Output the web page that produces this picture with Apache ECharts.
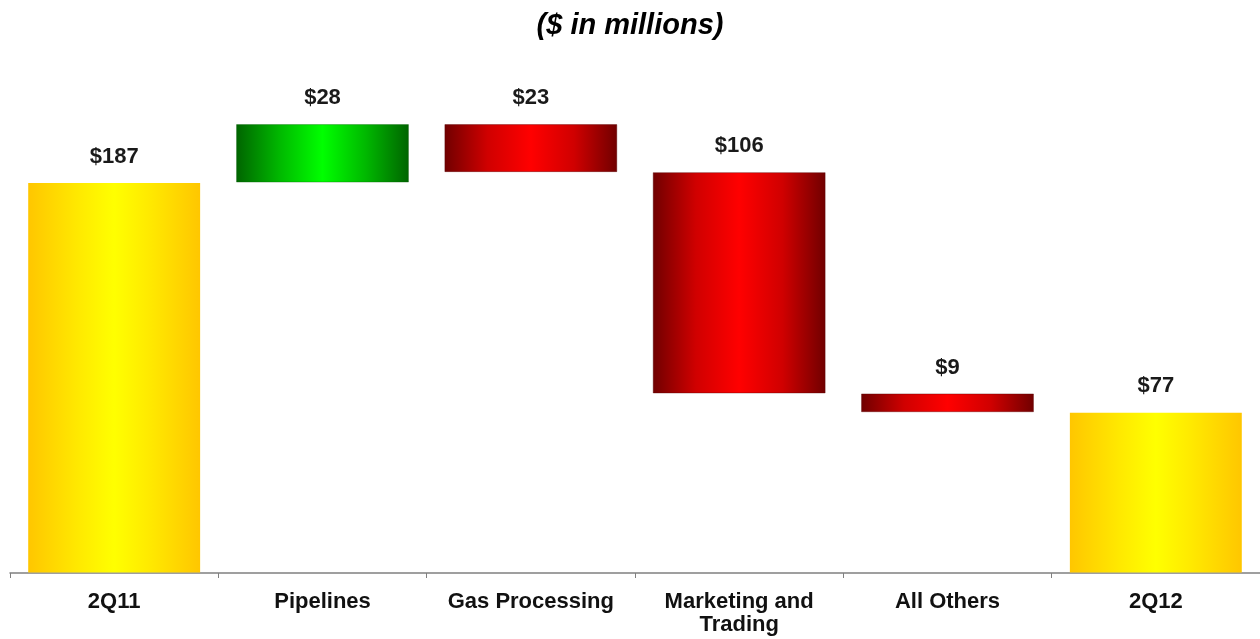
<!DOCTYPE html>
<html>
<head>
<meta charset="utf-8">
<script src="https://cdn.jsdelivr.net/npm/echarts@6/dist/echarts.min.js"></script>
<style>
  html, body { margin: 0; padding: 0; background: #fff; }
  #chart { width: 1260px; height: 639px; }
</style>
</head>
<body>
<div id="chart"></div>
<script>
// Quarter-over-quarter bridge, $ in millions
const categories = ['2Q11', 'Pipelines', 'Gas Processing', 'Marketing and\nTrading', 'All Others', '2Q12'];
const changes = [187, 28, -23, -106, -9, 77];
const kinds = ['total', 'delta', 'delta', 'delta', 'delta', 'total'];

const FONT = 'Arial, "Liberation Sans", sans-serif';

function grad(stops) {
  return new echarts.graphic.LinearGradient(0, 0, 1, 0,
    stops.map(([offset, color]) => ({ offset, color })));
}
const fills = {
  total: () => grad([[0, '#FFC600'], [0.3, '#FFEA00'], [0.5, '#FFFF00'], [0.7, '#FFEA00'], [1, '#FFC600']]),
  up: () => grad([[0, '#006400'], [0.25, '#00B800'], [0.5, '#00FF00'], [0.75, '#00B800'], [1, '#006400']]),
  down: () => grad([[0, '#700000'], [0.25, '#D00000'], [0.5, '#FF0000'], [0.75, '#D00000'], [1, '#700000']])
};

// floating offsets for the waterfall
const bases = [];
const heights = [];
let running = 0;
changes.forEach((v, i) => {
  if (kinds[i] === 'total') {
    bases.push(0);
    heights.push(v);
    running = v;
  } else if (v >= 0) {
    bases.push(running);
    heights.push(v);
    running += v;
  } else {
    running += v;
    bases.push(running);
    heights.push(-v);
  }
});

const barData = heights.map((h, i) => {
  const k = kinds[i] === 'total' ? 'total' : (changes[i] >= 0 ? 'up' : 'down');
  return {
    value: h,
    itemStyle: {
      color: fills[k](),
      borderColor: k === 'up' ? 'rgba(0,90,0,0.35)' : (k === 'down' ? 'rgba(90,0,0,0.4)' : 'rgba(0,0,0,0)'),
      borderWidth: 1
    }
  };
});

const chart = echarts.init(document.getElementById('chart'), null, { renderer: 'canvas' });
chart.setOption({
  animation: false,
  backgroundColor: '#ffffff',
  title: {
    text: '($ in millions)',
    left: 'center',
    top: 6,
    textStyle: {
      fontFamily: FONT,
      fontSize: 29,
      fontWeight: 'bold',
      fontStyle: 'italic',
      color: '#000'
    }
  },
  grid: { left: 10, right: 0, top: 74, bottom: 66 },
  xAxis: {
    type: 'category',
    data: categories,
    axisLine: { lineStyle: { color: '#808080', width: 1.5 } },
    axisTick: { show: true, interval: 0, length: 5, lineStyle: { color: '#808080' } },
    axisLabel: {
      interval: 0,
      hideOverlap: false,
      margin: 17,
      fontFamily: FONT,
      fontSize: 22,
      fontWeight: 'bold',
      color: '#111',
      lineHeight: 23
    }
  },
  yAxis: {
    type: 'value',
    min: 0,
    max: 239,
    show: false,
    splitLine: { show: false }
  },
  series: [
    {
      type: 'bar',
      stack: 'wf',
      data: bases,
      itemStyle: { color: 'rgba(0,0,0,0)' },
      barWidth: '83%',
      silent: true
    },
    {
      type: 'bar',
      stack: 'wf',
      data: barData,
      barWidth: '83%',
      label: {
        show: true,
        position: 'top',
        distance: 15,
        fontFamily: FONT,
        fontSize: 22,
        fontWeight: 'bold',
        color: '#1a1a1a',
        formatter: p => '$' + Math.abs(changes[p.dataIndex])
      }
    }
  ]
});
</script>
</body>
</html>
